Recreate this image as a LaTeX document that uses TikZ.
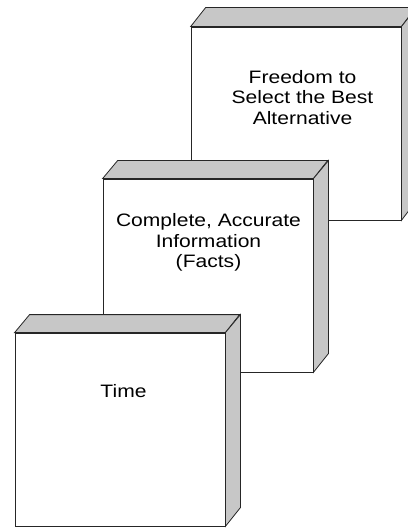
\documentclass[tikz,border=0pt]{standalone}
\usepackage{fontspec}
\setmainfont[FakeStretch=1.17]{Liberation Sans}
\begin{document}
\begin{tikzpicture}[x=1bp,y=-1bp,
  front/.style={draw=black!85,line width=0.8bp,fill=white,inner sep=0pt,minimum width=210bp,minimum height=193bp},
  face/.style={draw=black!85,line width=0.8bp,fill=black!22,line join=miter},
  lbl/.style={font=\fontsize{18bp}{20.3bp}\selectfont,align=center,inner sep=0pt}]
\useasboundingbox (0,0) rectangle (407,529);
% box 1
\node[front] (b1) at (296,123.5) {};
\draw[face] (b1.north west) -- ++(15,-19) -- ++(210,0) -- (b1.north east) -- cycle;
\draw[face] (b1.north east) -- ++(15,-19) -- ++(0,193) -- (b1.south east) -- cycle;
\node[lbl] (t1) at (302.5,97.5) {Freedom to\\Select the Best\\Alternative};
% box 2
\node[front] (b2) at (208,275.5) {};
\draw[face] (b2.north west) -- ++(15,-18) -- ++(210,0) -- (b2.north east) -- cycle;
\draw[face] (b2.north east) -- ++(15,-18) -- ++(0,193) -- (b2.south east) -- cycle;
\node[lbl] (t2) at (208.5,242.4) {Complete, Accurate\\Information\\(Facts)};
% box 3
\node[front] (b3) at (120,429.5) {};
\draw[face] (b3.north west) -- ++(15,-18) -- ++(210,0) -- (b3.north east) -- cycle;
\draw[face] (b3.north east) -- ++(15,-18) -- ++(0,193) -- (b3.south east) -- cycle;
\node[lbl,anchor=base] (t3) at (123.5,397) {Time};
\end{tikzpicture}
\end{document}
